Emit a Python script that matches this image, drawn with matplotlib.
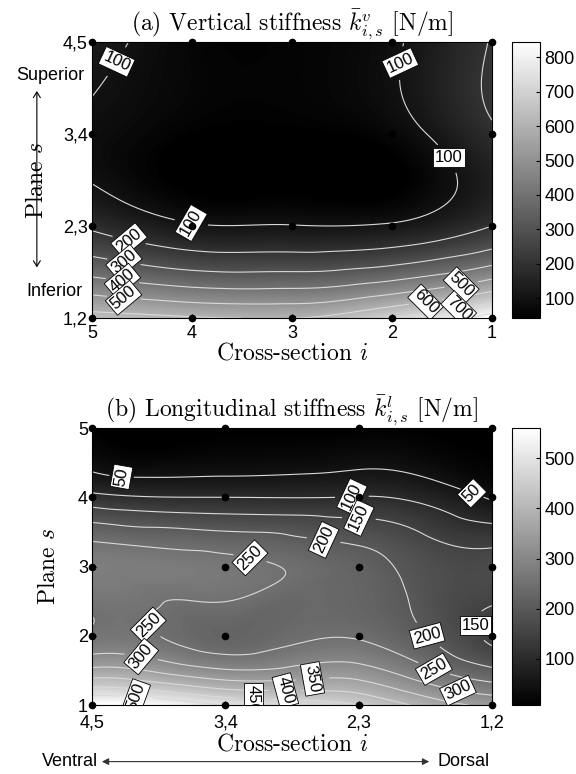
import numpy as np
import matplotlib
matplotlib.use("Agg")
import matplotlib.pyplot as plt
import matplotlib.tri as mtri
from matplotlib.colors import Normalize
from matplotlib.cm import ScalarMappable
from matplotlib.patches import FancyArrowPatch

plt.rcParams['mathtext.fontset'] = 'cm'
plt.rcParams['font.family'] = ['Liberation Sans', 'DejaVu Sans']

# (a) vertical stiffness: rows = planes 1,2 .. 4,5 ; columns = cross-sections 5 .. 1
sec_a = [5, 4, 3, 2, 1]
plane_a = [1, 2, 3, 4]
plane_a_labels = ['1,2', '2,3', '3,4', '4,5']
k_vert = [
    [640, 610, 600, 700, 845],
    [185, 108, 103, 110, 200],
    [85, 45, 42, 65, 185],
    [130, 60, 55, 90, 205],
]
levels_a = [100, 200, 300, 400, 500, 600, 700, 800]
ticks_a = [100, 200, 300, 400, 500, 600, 700, 800]

# (b) longitudinal stiffness: rows = planes 1 .. 5 ; columns = cross-section pairs 4,5 .. 1,2
sec_b = [4, 3, 2, 1]
sec_b_labels = ['4,5', '3,4', '2,3', '1,2']
plane_b = [1, 2, 3, 4, 5]
k_long = [
    [560, 500, 450, 340],
    [258, 225, 245, 140],
    [280, 265, 220, 170],
    [115, 100, 102, 45],
    [12, 10, 8, 9],
]
levels_b = [50, 100, 150, 200, 250, 300, 350, 400, 450, 500]
ticks_b = [100, 200, 300, 400, 500]

# contour label anchor points (x, y) and text angle
lab_a = [(4.85, 3.85, -25), (1.75, 3.75, 25), (1.50, 2.69, 0), (4.0, 2.09, 60),
         (4.63, 1.85, 40), (4.69, 1.56, 40), (4.70, 1.38, 40), (4.69, 1.16, 40),
         (1.31, 1.38, -45), (1.66, 1.15, -45), (1.33, 1.09, -45)]
lab_b = [(3.77, 4.6, 80), (1.12, 4.22, 45), (2.05, 3.98, 65), (2.0, 3.59, 65),
         (1.12, 2.15, 0), (2.27, 3.28, 65), (1.47, 2.03, 15), (2.82, 3.09, 45),
         (3.68, 2.05, 45), (1.41, 1.65, 30), (3.63, 1.72, 50), (1.25, 1.26, 25),
         (2.35, 1.46, -80), (2.55, 1.22, -75), (2.79, 1.14, -90), (3.67, 1.1, 70)]

SERIF = 'cmr10'
SERIF_SIZE = 17
SANS_SIZE = 13

fig = plt.figure(figsize=(5.76, 7.74), dpi=100)


def panel(ax, cax, xs, ys, z, levels, labels, cticks, xpad):
    X, Y = np.meshgrid(np.asarray(xs, float), np.asarray(ys, float))
    Z = np.asarray(z, float)
    tri = mtri.Triangulation(X.ravel(), Y.ravel())
    interp = mtri.CubicTriInterpolator(tri, Z.ravel(), kind='min_E')
    refiner = mtri.UniformTriRefiner(tri)
    tri_f, z_f = refiner.refine_field(Z.ravel(), triinterpolator=interp, subdiv=5)
    vmin, vmax = Z.min(), Z.max()
    z_f = np.clip(z_f, vmin, vmax)
    norm = Normalize(vmin, vmax)
    ax.tricontourf(tri_f, z_f, levels=np.linspace(vmin, vmax, 160),
                   cmap='gray', norm=norm)
    cs = ax.tricontour(tri_f, z_f, levels=levels, colors='#d9d9d9',
                       linewidths=0.8)
    pts = [(x, y) for x, y, _ in labels]
    texts = ax.clabel(cs, fmt='%d', inline=True, inline_spacing=3,
                      fontsize=12, manual=pts, colors='k')
    for t, (_, _, ang) in zip(texts, labels):
        t.set_rotation(ang)
        t.set_bbox(dict(boxstyle='square,pad=0.12', fc='white', ec='black', lw=0.6))
        t.set_clip_on(True)
    ax.plot(X.ravel(), Y.ravel(), 'o', color='k', ms=4.5, clip_on=False, zorder=6)
    ax.set_xlim(max(xs), min(xs))
    ax.set_ylim(min(ys), max(ys))
    ax.tick_params(direction='in', labelsize=SANS_SIZE, length=3)
    ax.tick_params(axis='x', pad=xpad)
    ax.tick_params(axis='y', pad=3)
    for sp in ax.spines.values():
        sp.set_linewidth(0.8)
    cb = fig.colorbar(ScalarMappable(norm=norm, cmap='gray'), cax=cax, ticks=cticks)
    cb.ax.tick_params(direction='in', labelsize=SANS_SIZE, length=3)
    cb.outline.set_linewidth(0.8)
    return cs


ax_a = fig.add_axes([0.160, 0.589, 0.694, 0.357])
cax_a = fig.add_axes([0.889, 0.589, 0.048, 0.357])
panel(ax_a, cax_a, sec_a, plane_a, k_vert, levels_a, lab_a, ticks_a, 5)
ax_a.set_xticks(sec_a)
ax_a.set_xticklabels([str(s) for s in sec_a])
ax_a.set_yticks(plane_a)
ax_a.set_yticklabels(plane_a_labels)
ax_a.set_title(r'(a) Vertical stiffness $\bar{k}^{v}_{i,s}$ [N/m]',
               fontfamily=SERIF, fontsize=SERIF_SIZE, pad=6)
ax_a.set_xlabel(r'Cross-section $i$', fontfamily=SERIF, fontsize=SERIF_SIZE, labelpad=0)
ax_a.set_ylabel(r'Plane $s$', fontfamily=SERIF, fontsize=SERIF_SIZE)
ax_a.yaxis.set_label_coords(-0.11, 0.5)

ax_b = fig.add_axes([0.160, 0.089, 0.694, 0.358])
cax_b = fig.add_axes([0.889, 0.089, 0.048, 0.358])
panel(ax_b, cax_b, sec_b, plane_b, k_long, levels_b, lab_b, ticks_b, 7)
ax_b.set_xticks(sec_b)
ax_b.set_xticklabels(sec_b_labels)
ax_b.set_yticks(plane_b)
ax_b.set_yticklabels([str(p) for p in plane_b])
ax_b.set_title(r'(b) Longitudinal stiffness $\bar{k}^{l}_{i,s}$ [N/m]',
               fontfamily=SERIF, fontsize=SERIF_SIZE, pad=6)
ax_b.set_xlabel(r'Cross-section $i$', fontfamily=SERIF, fontsize=SERIF_SIZE, labelpad=1)
ax_b.set_ylabel(r'Plane $s$', fontfamily=SERIF, fontsize=SERIF_SIZE)
ax_b.yaxis.set_label_coords(-0.08, 0.5)

# anatomical orientation hints
fig.text(0.087, 0.903, 'Superior', ha='center', va='center', fontsize=SANS_SIZE)
fig.text(0.095, 0.624, 'Inferior', ha='center', va='center', fontsize=SANS_SIZE)
fig.add_artist(FancyArrowPatch(
    (0.064, 0.651), (0.064, 0.886), transform=fig.transFigure,
    arrowstyle='<->,head_length=4,head_width=2.5', color='k', lw=0.8))

fig.text(0.122, 0.016, 'Ventral', ha='center', va='center', fontsize=SANS_SIZE)
fig.text(0.805, 0.016, 'Dorsal', ha='center', va='center', fontsize=SANS_SIZE)
fig.add_artist(FancyArrowPatch(
    (0.172, 0.016), (0.750, 0.016), transform=fig.transFigure,
    arrowstyle='<|-|>,head_length=4,head_width=2', color='#333333', lw=0.8))

fig.savefig('out.png', dpi=100)
